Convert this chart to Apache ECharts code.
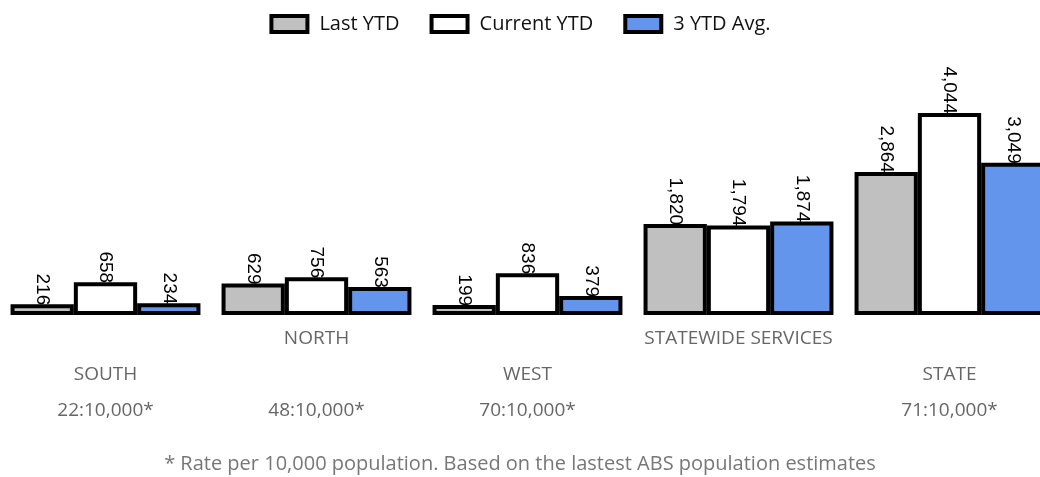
<!DOCTYPE html>
<html>
<head>
    <meta charset="UTF-8">
    <title>YTD by region</title>
    <script src="https://cdn.jsdelivr.net/npm/echarts@6/dist/echarts.min.js"></script>
    <style>
        html, body { margin: 0; padding: 0; background: #fff; }
        #chartContainer { width: 1040px; height: 477px; }
    </style>
</head>
<body>
    <div id="chartContainer"></div>

    <script>
        // data
        const regions = ['SOUTH', 'NORTH', 'WEST', 'STATEWIDE SERVICES', 'STATE'];
        const rates = ['22:10,000*', '48:10,000*', '70:10,000*', '', '71:10,000*'];
        const lastYtd = [216, 629, 199, 1820, 2864];
        const currentYtd = [658, 756, 836, 1794, 4044];
        const avgYtd = [234, 563, 379, 1874, 3049];
        const seriesNames = ['Last YTD', 'Current YTD', '3 YTD Avg.'];
        const seriesColors = ['#c0c0c0', '#ffffff', '#6495ed'];
        const footNote = '* Rate per 10,000 population. Based on the lastest ABS population estimates';

        const myChart = echarts.init(document.getElementById('chartContainer'));

        function makeSeries(name, data, color) {
            return {
                name: name,
                type: 'bar',
                data: data,
                barGap: '0%',
                barCategoryGap: '10%',
                itemStyle: {
                    color: color,
                    borderColor: '#000',
                    borderWidth: 4
                },
                label: {
                    show: true,
                    position: 'top',
                    rotate: -90,
                    align: 'right',
                    verticalAlign: 'middle',
                    distance: -1,
                    color: '#000',
                    fontFamily: 'Liberation Sans',
                    fontSize: 19,
                    formatter: p => p.value.toLocaleString('en-US')
                }
            };
        }

        const option = {
            animation: false,
            legend: {
                top: 9,
                left: 'center',
                icon: 'rect',
                itemWidth: 36,
                itemHeight: 16,
                itemGap: 30,
                itemStyle: { borderColor: '#000', borderWidth: 4 },
                textStyle: {
                    fontFamily: 'Open Sans',
                    fontSize: 20,
                    color: '#111',
                    padding: [0, 0, 0, 7]
                },
                data: seriesNames
            },
            grid: {
                left: 0,
                width: 1055,
                top: 113,
                bottom: 162,
                outerBoundsMode: 'none'
            },
            xAxis: {
                type: 'category',
                data: regions,
                axisLine: { show: false },
                axisTick: { show: false },
                axisLabel: {
                    interval: 0,
                    margin: 6,
                    color: '#666',
                    fontFamily: 'Open Sans',
                    fontSize: 19,
                    lineHeight: 36,
                    formatter: (val, idx) => idx % 2 === 1
                        ? val + '\n \n' + (rates[idx] || ' ')
                        : ' \n' + val + '\n' + (rates[idx] || ' ')
                }
            },
            yAxis: {
                type: 'value',
                show: false,
                min: 0,
                max: 'dataMax'
            },
            graphic: [{
                type: 'text',
                left: 'center',
                top: 454,
                style: {
                    text: footNote,
                    fill: '#777',
                    font: '20px "Open Sans"'
                }
            }],
            series: [
                makeSeries(seriesNames[0], lastYtd, seriesColors[0]),
                makeSeries(seriesNames[1], currentYtd, seriesColors[1]),
                makeSeries(seriesNames[2], avgYtd, seriesColors[2])
            ]
        };

        myChart.setOption(option);
    </script>
</body>
</html>
